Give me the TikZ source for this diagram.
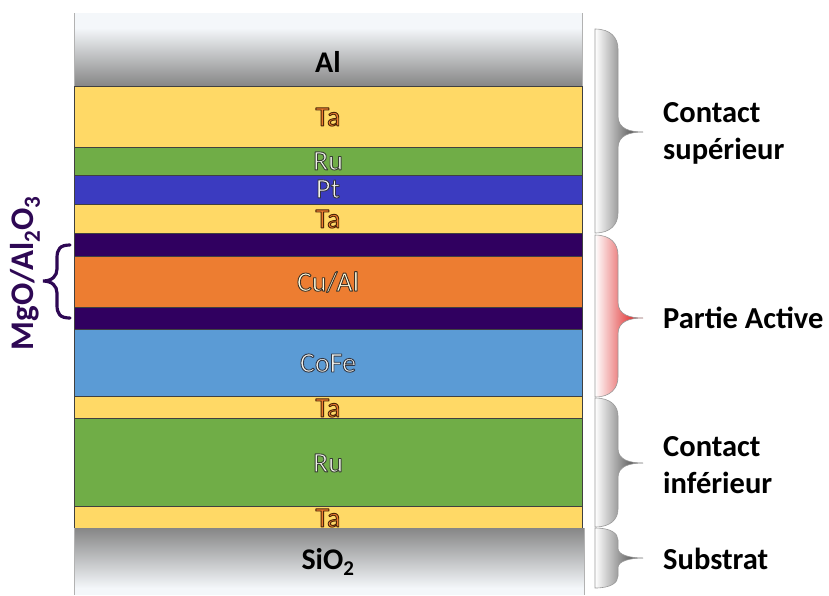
\documentclass[tikz,border=0pt]{standalone}
\usepackage{fontspec}
\setmainfont{Carlito}
\definecolor{taY}{HTML}{FFD966}
\definecolor{ruG}{HTML}{70AD47}
\definecolor{ptB}{HTML}{3B3BC0}
\definecolor{oxP}{HTML}{300060}
\definecolor{cuO}{HTML}{ED7D31}
\definecolor{cofeB}{HTML}{5B9BD5}
\definecolor{alTop}{HTML}{F4F7FA}
\definecolor{alBot}{HTML}{868686}
\definecolor{edgeC}{HTML}{404040}
\definecolor{mgC}{HTML}{2E0854}
\definecolor{taTxt}{HTML}{ED7D31}
\definecolor{lightTxt}{HTML}{F2F2EC}
% #1 fill colour, #2 stroke as "r g b", #3 text
\newcommand\olab[3]{{\color{#1}\special{pdf:literal direct #2 RG 0.9 w 1 j 2 Tr}#3\special{pdf:literal direct 0 Tr}}}
\newcommand\rbr[5]{% top, mid, bottom, radius, shade colour
 \shade[left color=white, right color=#5, draw=gray!80, line width=0.6pt]
 (595,#1) .. controls (611,#1) and (618,#1+#4*0.45) .. (618,#1+#4)
 -- (618,#2-#4*0.8) .. controls (618,#2-3) and (630,#2) .. (643,#2)
 .. controls (630,#2) and (618,#2+3) .. (618,#2+#4*0.8)
 -- (618,#3-#4) .. controls (618,#3-#4*0.45) and (611,#3) .. (595,#3) -- cycle;}
\begin{document}
\begin{tikzpicture}[x=1pt,y=-1pt,
  layer/.style={draw=edgeC, line width=0.7pt},
  lab/.style={font=\fontsize{28}{33}\selectfont, inner sep=0pt},
  blab/.style={font=\fontsize{30}{35}\selectfont\bfseries, inner sep=0pt},
  side/.style={font=\fontsize{30.5}{37}\selectfont\bfseries, align=left, anchor=west, inner sep=0pt}]
\useasboundingbox (0,0) rectangle (829,595);
% Al
\fill[alTop] (74,13) rectangle (582,28);
\shade[top color=alTop, bottom color=alBot] (74,28) rectangle (582,86);
\draw[gray!60, line width=0.6pt] (74,13) -- (74,86) (582,13) -- (582,86);
% layers
\draw[layer, fill=taY] (74,86) rectangle (582,147);
\draw[layer, fill=ruG] (74,147) rectangle (582,175);
\draw[layer, fill=ptB] (74,175) rectangle (582,204);
\draw[layer, fill=taY] (74,204) rectangle (582,233);
\draw[layer, fill=oxP] (74,233) rectangle (582,256);
\draw[layer, fill=cuO] (74,256) rectangle (582,307);
\draw[layer, fill=oxP] (74,307) rectangle (582,329);
\draw[layer, fill=cofeB] (74,329) rectangle (582,396);
\draw[layer, fill=taY] (74,396) rectangle (582,418);
\draw[layer, fill=ruG] (74,418) rectangle (582,506);
\draw[layer, fill=taY] (74,506) rectangle (582,528);
% SiO2
\shade[top color=alBot, bottom color=alTop] (74,528) rectangle (584,588);
\fill[alTop] (74,588) rectangle (584,595);
\draw[gray!60, line width=0.6pt] (74,528) -- (74,595) (584,528) -- (584,595);
% labels
\node[blab] (lAl) at (328,62) {Al};
\node[lab] (lTa1) at (328,117) {\olab{taTxt}{0.3 0.15 0.03}{Ta}};
\node[lab] (lRu1) at (328,161) {\olab{lightTxt}{0.22 0.25 0.2}{Ru}};
\node[lab] (lPt) at (328,189) {\olab{lightTxt}{0.2 0.2 0.25}{Pt}};
\node[lab] (lTa2) at (328,219) {\olab{taTxt}{0.3 0.15 0.03}{Ta}};
\node[lab] (lCu) at (328,282) {\olab{yellow!12!white}{0.25 0.2 0.15}{Cu/Al}};
\node[lab] (lCoFe) at (328,363) {\olab{lightTxt}{0.2 0.22 0.27}{CoFe}};
\node[lab] (lTa3) at (328,408) {\olab{taTxt}{0.3 0.15 0.03}{Ta}};
\node[lab] (lRu2) at (328,463) {\olab{lightTxt}{0.22 0.25 0.2}{Ru}};
\node[lab] (lTa4) at (328,518) {\olab{taTxt}{0.3 0.15 0.03}{Ta}};
\node[blab] (lSi) at (328,562) {SiO\textsubscript{2}};
% left brace
\draw[mgC, line width=3.2pt, line cap=round]
 (70,245) .. controls (60,245) and (57,249) .. (57,258) -- (57,269)
 .. controls (57,276) and (52,281) .. (43,281)
 .. controls (52,281) and (57,286) .. (57,293) -- (57,305)
 .. controls (57,314) and (60,318) .. (70,318);
\node[font=\fontsize{33}{38}\selectfont\bfseries, inner sep=0pt, text=mgC, rotate=90] (lMg) at (25,273) {MgO/Al\textsubscript{2}O\textsubscript{3}};
% right braces
\rbr{29}{132}{233}{20}{black!80}
\rbr{235}{318}{397}{20}{red!85!black}
\rbr{398}{463}{527}{18}{black!80}
\rbr{528}{558}{588}{12}{black!80}
\node[side] (sTop) at (663,133) {Contact\\supérieur};
\node[side] (sAct) at (663,318) {Partie Active};
\node[side] (sInf) at (663,465) {Contact\\inférieur};
\node[side] (sSub) at (663,559) {Substrat};
\end{tikzpicture}
\end{document}
